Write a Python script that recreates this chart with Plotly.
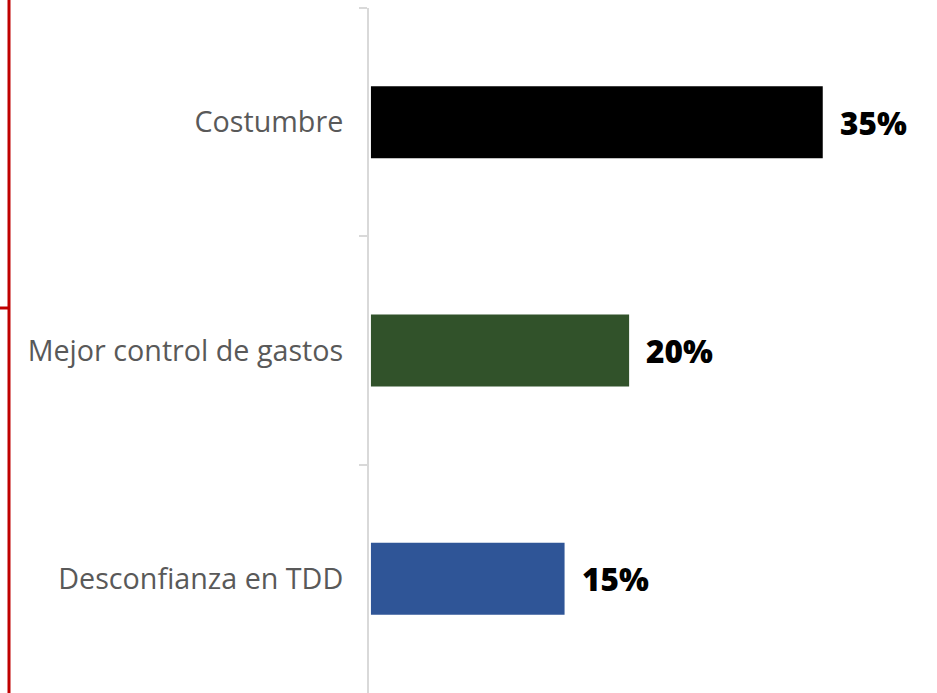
import plotly.graph_objects as go

# Survey reasons and their shares (%)
categories = ["Costumbre", "Mejor control de gastos", "Desconfianza en TDD"]
values = [35, 20, 15]
bar_colors = ["#000000", "#31522A", "#2F5597"]

W, H = 937, 693
M_L, M_R, M_T, M_B = 369, 0, 8, 0
plot_w = W - M_L - M_R
plot_h = H - M_T - M_B


def px_to_paper_x(px):
    return (px - M_L) / plot_w


def px_to_paper_y(py):
    return (H - M_B - py) / plot_h


fig = go.Figure(
    go.Bar(
        x=values,
        y=categories,
        orientation="h",
        marker=dict(color=bar_colors, line=dict(width=0)),
        hoverinfo="skip",
    )
)

# value labels at the end of each bar
for cat, val in zip(categories, values):
    fig.add_annotation(
        x=val, y=cat, xref="x", yref="y",
        text=f"{val}%", showarrow=False,
        xanchor="left", yanchor="middle", xshift=15,
        font=dict(family="Open Sans", size=31.5, color="#000000", weight=800),
    )

# red bracket on the left edge
red = "#C00000"
fig.add_shape(type="line", xref="paper", yref="paper",
              x0=px_to_paper_x(9), x1=px_to_paper_x(9),
              y0=px_to_paper_y(0), y1=px_to_paper_y(H),
              line=dict(color=red, width=3))
fig.add_shape(type="line", xref="paper", yref="paper",
              x0=px_to_paper_x(0), x1=px_to_paper_x(9),
              y0=px_to_paper_y(308), y1=px_to_paper_y(308),
              line=dict(color=red, width=3))

fig.update_layout(
    width=W, height=H,
    margin=dict(l=M_L, r=M_R, t=M_T, b=M_B, pad=0),
    plot_bgcolor="white", paper_bgcolor="white",
    bargap=0.685,
    showlegend=False,
    xaxis=dict(visible=False, range=[-0.15, 43.85], fixedrange=True),
    yaxis=dict(
        type="category",
        autorange="reversed",
        showline=True, linecolor="#D9D9D9", linewidth=2,
        ticks="outside", tickson="boundaries", ticklen=8, tickwidth=2,
        tickcolor="#D9D9D9",
        showgrid=False, zeroline=False,
        ticklabelstandoff=18,
        tickfont=dict(family="Open Sans", size=28.7, color="#595959"),
        fixedrange=True,
    ),
)

fig.write_html("out.html")
